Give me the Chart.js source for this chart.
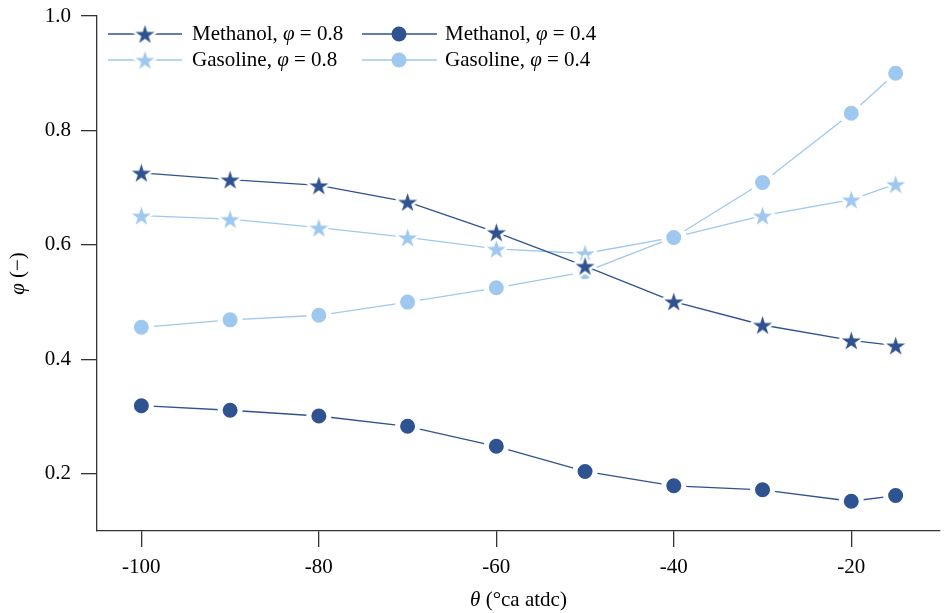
<!DOCTYPE html>
<html>
<head>
<meta charset="utf-8">
<script src="https://cdn.jsdelivr.net/npm/chart.js@4.4.1/dist/chart.umd.min.js"></script>
<style>
  html, body { margin: 0; padding: 0; background: #fff; overflow: hidden; }
  canvas { display: block; }
</style>
</head>
<body>
<canvas id="myChart" width="945" height="613"></canvas>
<script>
// crank angle (deg ca atdc)
const crankAngle = [-100, -90, -80, -70, -60, -50, -40, -30, -20, -15];
const methanol08 = [0.726, 0.714, 0.704, 0.675, 0.622, 0.563, 0.501, 0.460, 0.433, 0.424];
const gasoline08 = [0.651, 0.645, 0.630, 0.613, 0.593, 0.585, 0.613, 0.651, 0.679, 0.706];
const methanol04 = [0.319, 0.311, 0.301, 0.283, 0.248, 0.204, 0.179, 0.172, 0.152, 0.162];
const gasoline04 = [0.456, 0.469, 0.477, 0.500, 0.525, 0.553, 0.613, 0.709, 0.830, 0.900];
const seriesLabels = ['Methanol, φ = 0.8', 'Gasoline, φ = 0.8', 'Methanol, φ = 0.4', 'Gasoline, φ = 0.4'];
const xTicks = [-100, -80, -60, -40, -20];
const yTicks = [0.2, 0.4, 0.6, 0.8, 1.0];
const xTitle = 'θ (°ca atdc)';
const yTitle = 'φ (−)';

const dark = '#2f5290';
const light = '#9ec8ef';
const axisCol = '#333333';
const fontFam = '"Liberation Serif", "DejaVu Serif", serif';
const fontSize = 21;

function makeStar(color) {
  const R = 10, edge = 2.5;
  const size = Math.ceil(2 * (R + edge) + 2);
  const c = document.createElement('canvas');
  c.width = size; c.height = size;
  const g = c.getContext('2d');
  g.translate(size / 2, size / 2 + 1);
  g.beginPath();
  for (let i = 0; i < 10; i++) {
    const r = i % 2 === 0 ? R : R * 0.382;
    const a = -Math.PI / 2 + i * Math.PI / 5;
    const px = r * Math.cos(a), py = r * Math.sin(a);
    if (i === 0) g.moveTo(px, py); else g.lineTo(px, py);
  }
  g.closePath();
  g.lineJoin = 'round';
  g.lineWidth = edge * 2;
  g.strokeStyle = '#fff';
  g.stroke();
  g.fillStyle = color;
  g.fill();
  return c;
}
const darkStar = makeStar(dark);
const lightStar = makeStar(light);

function pts(vals) {
  return crankAngle.map((x, i) => ({ x: x, y: vals[i] }));
}

// draws text, setting φ and θ in italic
function drawMixed(g, text, x, y, align) {
  const parts = text.split(/([φθ])/).filter(s => s.length);
  const fonts = parts.map(p => (p === 'φ' || p === 'θ') ? 'italic ' + fontSize + 'px ' + fontFam : fontSize + 'px ' + fontFam);
  let total = 0;
  parts.forEach((p, i) => { g.font = fonts[i]; total += g.measureText(p).width; });
  let cx = align === 'center' ? x - total / 2 : x;
  g.textAlign = 'left';
  g.textBaseline = 'middle';
  parts.forEach((p, i) => {
    g.font = fonts[i];
    g.fillText(p, cx, y);
    cx += g.measureText(p).width;
  });
}

const styles = [
  { col: dark, star: true },
  { col: light, star: true },
  { col: dark, star: false },
  { col: light, star: false }
];

const extras = {
  id: 'extras',
  afterDraw(chart) {
    const g = chart.ctx;
    const area = chart.chartArea;
    g.save();
    g.fillStyle = '#000';
    // legend
    const colX = [[108, 145, 182, 192], [362, 399, 437, 445]];
    const rowY = [34, 60];
    seriesLabels.forEach((lab, i) => {
      const c = colX[Math.floor(i / 2)];
      const y = rowY[i % 2];
      const st = styles[i];
      g.strokeStyle = st.col;
      g.lineWidth = 1.3;
      g.beginPath(); g.moveTo(c[0], y); g.lineTo(c[2], y); g.stroke();
      if (st.star) {
        const img = st.col === dark ? darkStar : lightStar;
        g.drawImage(img, c[1] - img.width / 2, y - img.height / 2);
      } else {
        g.fillStyle = st.col;
        g.beginPath(); g.arc(c[1], y, 7.5, 0, Math.PI * 2); g.fill();
      }
      g.fillStyle = '#000';
      drawMixed(g, lab, c[3], y, 'left');
    });
    // axis titles
    drawMixed(g, xTitle, (area.left + area.right) / 2, 600, 'center');
    g.translate(18, (area.top + area.bottom) / 2);
    g.rotate(-Math.PI / 2);
    drawMixed(g, yTitle, 0, 0, 'center');
    g.restore();
  }
};

const ctx = document.getElementById('myChart');

new Chart(ctx, {
  type: 'line',
  data: {
    datasets: [
      {
        label: seriesLabels[0], data: pts(methanol08), order: 0,
        borderColor: dark, backgroundColor: dark, borderWidth: 1.3,
        pointStyle: darkStar
      },
      {
        label: seriesLabels[1], data: pts(gasoline08), order: 3,
        borderColor: light, backgroundColor: light, borderWidth: 1.3,
        pointStyle: lightStar
      },
      {
        label: seriesLabels[2], data: pts(methanol04), order: 1,
        borderColor: dark, backgroundColor: dark, borderWidth: 1.3,
        pointStyle: 'circle', pointRadius: 10, pointBorderWidth: 5,
        pointBorderColor: '#fff', pointBackgroundColor: dark
      },
      {
        label: seriesLabels[3], data: pts(gasoline04), order: 2,
        borderColor: light, backgroundColor: light, borderWidth: 1.3,
        pointStyle: 'circle', pointRadius: 10, pointBorderWidth: 5,
        pointBorderColor: '#fff', pointBackgroundColor: light
      }
    ]
  },
  options: {
    responsive: false,
    animation: false,
    devicePixelRatio: 1,
    layout: { autoPadding: false, padding: { top: 16, right: 5, left: 0, bottom: 0 } },
    plugins: {
      legend: { display: false },
      tooltip: { enabled: false }
    },
    elements: { line: { tension: 0 } },
    scales: {
      x: {
        type: 'linear',
        min: -105,
        max: -10,
        afterBuildTicks: s => { s.ticks = xTicks.map(v => ({ value: v })); },
        afterFit: s => { s.height = 82; s.paddingLeft = 0; s.paddingRight = 0; },
        ticks: {
          color: '#000',
          font: { family: fontFam, size: fontSize },
          padding: 8,
          maxRotation: 0,
          callback: v => String(v)
        },
        grid: {
          drawOnChartArea: false,
          tickLength: 16,
          color: axisCol,
          lineWidth: 1.3
        },
        border: { display: true, color: axisCol, width: 1.3 }
      },
      y: {
        min: 0.1,
        max: 1.0,
        afterBuildTicks: s => { s.ticks = yTicks.map(v => ({ value: v })); },
        afterFit: s => { s.width = 97; s.paddingTop = 0; s.paddingBottom = 0; },
        ticks: {
          color: '#000',
          font: { family: fontFam, size: fontSize },
          padding: 10,
          callback: v => v.toFixed(1)
        },
        grid: {
          drawOnChartArea: false,
          tickLength: 16,
          color: axisCol,
          lineWidth: 1.3
        },
        border: { display: true, color: axisCol, width: 1.3 }
      }
    }
  },
  plugins: [extras]
});
</script>
</body>
</html>
